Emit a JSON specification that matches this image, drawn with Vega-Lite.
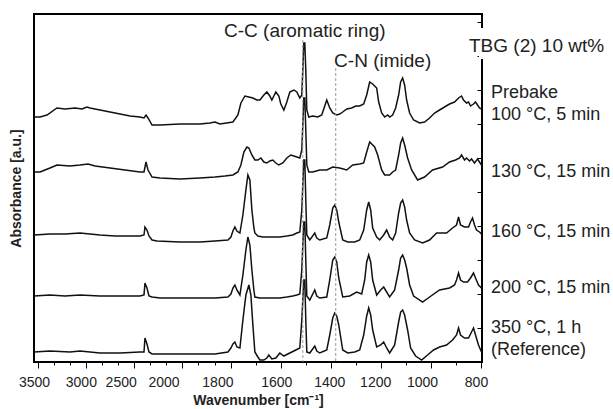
{
  "$schema": "https://vega.github.io/schema/vega-lite/v6.json",
  "width": 448,
  "height": 348,
  "autosize": {"type": "none"},
  "padding": {"left": 34, "top": 14, "right": 131, "bottom": 47},
  "background": "white",
  "config": {
    "view": {"stroke": "#000", "strokeWidth": 2},
    "font": "Liberation Sans",
    "axis": {"labelFont": "Liberation Sans", "titleFont": "Liberation Sans", "tickColor": "#000", "labelColor": "#222", "titleColor": "#222", "grid": false}
  },
  "datasets": {
    "spec": [
      {"s":"a","x":3542,"y":2.45},{"s":"a","x":3479,"y":2.45},{"s":"a","x":3406,"y":2.47},{"s":"a","x":3302,"y":2.54},{"s":"a","x":3218,"y":2.53},{"s":"a","x":3113,"y":2.54},{"s":"a","x":3040,"y":2.53},{"s":"a","x":2988,"y":2.55},{"s":"a","x":2957,"y":2.54},{"s":"a","x":2852,"y":2.52},{"s":"a","x":2695,"y":2.49},{"s":"a","x":2538,"y":2.46},{"s":"a","x":2434,"y":2.45},{"s":"a","x":2392,"y":2.44},{"s":"a","x":2371,"y":2.47},{"s":"a","x":2350,"y":2.44},{"s":"a","x":2308,"y":2.37},{"s":"a","x":2225,"y":2.37},{"s":"a","x":2016,"y":2.38},{"s":"a","x":1926,"y":2.38},{"s":"a","x":1886,"y":2.39},{"s":"a","x":1866,"y":2.40},{"s":"a","x":1846,"y":2.38},{"s":"a","x":1794,"y":2.40},{"s":"a","x":1774,"y":2.47},{"s":"a","x":1762,"y":2.59},{"s":"a","x":1746,"y":2.66},{"s":"a","x":1730,"y":2.65},{"s":"a","x":1714,"y":2.64},{"s":"a","x":1698,"y":2.62},{"s":"a","x":1686,"y":2.62},{"s":"a","x":1670,"y":2.67},{"s":"a","x":1658,"y":2.70},{"s":"a","x":1646,"y":2.66},{"s":"a","x":1638,"y":2.62},{"s":"a","x":1622,"y":2.70},{"s":"a","x":1610,"y":2.66},{"s":"a","x":1602,"y":2.58},{"s":"a","x":1590,"y":2.52},{"s":"a","x":1578,"y":2.60},{"s":"a","x":1566,"y":2.70},{"s":"a","x":1550,"y":2.72},{"s":"a","x":1538,"y":2.70},{"s":"a","x":1526,"y":2.64},{"s":"a","x":1518,"y":2.67},{"s":"a","x":1514,"y":2.92},{"s":"a","x":1510,"y":3.19},{"s":"a","x":1506,"y":3.19},{"s":"a","x":1502,"y":2.92},{"s":"a","x":1498,"y":2.52},{"s":"a","x":1490,"y":2.45},{"s":"a","x":1474,"y":2.46},{"s":"a","x":1454,"y":2.45},{"s":"a","x":1438,"y":2.47},{"s":"a","x":1418,"y":2.62},{"s":"a","x":1406,"y":2.54},{"s":"a","x":1394,"y":2.49},{"s":"a","x":1378,"y":2.47},{"s":"a","x":1366,"y":2.48},{"s":"a","x":1354,"y":2.50},{"s":"a","x":1338,"y":2.53},{"s":"a","x":1318,"y":2.54},{"s":"a","x":1302,"y":2.56},{"s":"a","x":1286,"y":2.56},{"s":"a","x":1270,"y":2.58},{"s":"a","x":1258,"y":2.67},{"s":"a","x":1246,"y":2.80},{"s":"a","x":1234,"y":2.78},{"s":"a","x":1226,"y":2.76},{"s":"a","x":1218,"y":2.74},{"s":"a","x":1210,"y":2.60},{"s":"a","x":1198,"y":2.49},{"s":"a","x":1186,"y":2.45},{"s":"a","x":1174,"y":2.47},{"s":"a","x":1166,"y":2.45},{"s":"a","x":1154,"y":2.47},{"s":"a","x":1142,"y":2.54},{"s":"a","x":1130,"y":2.67},{"s":"a","x":1122,"y":2.80},{"s":"a","x":1114,"y":2.84},{"s":"a","x":1106,"y":2.77},{"s":"a","x":1098,"y":2.62},{"s":"a","x":1086,"y":2.49},{"s":"a","x":1070,"y":2.42},{"s":"a","x":1046,"y":2.39},{"s":"a","x":1026,"y":2.40},{"s":"a","x":1006,"y":2.44},{"s":"a","x":986,"y":2.49},{"s":"a","x":966,"y":2.52},{"s":"a","x":946,"y":2.55},{"s":"a","x":926,"y":2.58},{"s":"a","x":906,"y":2.60},{"s":"a","x":890,"y":2.64},{"s":"a","x":878,"y":2.66},{"s":"a","x":870,"y":2.62},{"s":"a","x":858,"y":2.59},{"s":"a","x":850,"y":2.60},{"s":"a","x":842,"y":2.56},{"s":"a","x":830,"y":2.58},{"s":"a","x":822,"y":2.60},{"s":"a","x":814,"y":2.57},{"s":"a","x":806,"y":2.54},{"s":"a","x":798,"y":2.53},
      {"s":"b","x":3542,"y":1.90},{"s":"b","x":3479,"y":1.90},{"s":"b","x":3375,"y":1.94},{"s":"b","x":3302,"y":1.97},{"s":"b","x":3166,"y":1.96},{"s":"b","x":3061,"y":1.97},{"s":"b","x":2977,"y":1.98},{"s":"b","x":2904,"y":1.96},{"s":"b","x":2747,"y":1.94},{"s":"b","x":2591,"y":1.92},{"s":"b","x":2434,"y":1.90},{"s":"b","x":2392,"y":1.90},{"s":"b","x":2371,"y":2.00},{"s":"b","x":2350,"y":1.92},{"s":"b","x":2308,"y":1.85},{"s":"b","x":2225,"y":1.84},{"s":"b","x":2016,"y":1.83},{"s":"b","x":1926,"y":1.84},{"s":"b","x":1866,"y":1.85},{"s":"b","x":1826,"y":1.86},{"s":"b","x":1794,"y":1.87},{"s":"b","x":1774,"y":1.90},{"s":"b","x":1762,"y":1.97},{"s":"b","x":1750,"y":2.10},{"s":"b","x":1738,"y":2.15},{"s":"b","x":1730,"y":2.14},{"s":"b","x":1718,"y":2.07},{"s":"b","x":1706,"y":2.02},{"s":"b","x":1694,"y":2.02},{"s":"b","x":1682,"y":2.04},{"s":"b","x":1670,"y":2.00},{"s":"b","x":1658,"y":1.99},{"s":"b","x":1646,"y":2.01},{"s":"b","x":1634,"y":2.02},{"s":"b","x":1622,"y":1.99},{"s":"b","x":1610,"y":1.97},{"s":"b","x":1594,"y":1.99},{"s":"b","x":1578,"y":2.04},{"s":"b","x":1562,"y":2.07},{"s":"b","x":1550,"y":2.06},{"s":"b","x":1538,"y":2.05},{"s":"b","x":1526,"y":2.04},{"s":"b","x":1518,"y":2.12},{"s":"b","x":1514,"y":2.37},{"s":"b","x":1510,"y":2.64},{"s":"b","x":1506,"y":2.64},{"s":"b","x":1502,"y":2.32},{"s":"b","x":1498,"y":1.97},{"s":"b","x":1490,"y":1.90},{"s":"b","x":1474,"y":1.90},{"s":"b","x":1446,"y":1.92},{"s":"b","x":1418,"y":1.92},{"s":"b","x":1394,"y":1.95},{"s":"b","x":1366,"y":1.94},{"s":"b","x":1338,"y":1.92},{"s":"b","x":1314,"y":1.97},{"s":"b","x":1286,"y":1.98},{"s":"b","x":1270,"y":1.99},{"s":"b","x":1258,"y":2.10},{"s":"b","x":1246,"y":2.20},{"s":"b","x":1234,"y":2.17},{"s":"b","x":1226,"y":2.15},{"s":"b","x":1214,"y":2.07},{"s":"b","x":1198,"y":1.92},{"s":"b","x":1186,"y":1.87},{"s":"b","x":1166,"y":1.87},{"s":"b","x":1154,"y":1.90},{"s":"b","x":1142,"y":1.92},{"s":"b","x":1130,"y":2.07},{"s":"b","x":1122,"y":2.19},{"s":"b","x":1114,"y":2.24},{"s":"b","x":1106,"y":2.17},{"s":"b","x":1094,"y":2.04},{"s":"b","x":1078,"y":1.92},{"s":"b","x":1054,"y":1.82},{"s":"b","x":1026,"y":1.85},{"s":"b","x":994,"y":1.92},{"s":"b","x":954,"y":1.95},{"s":"b","x":926,"y":2.00},{"s":"b","x":902,"y":2.02},{"s":"b","x":886,"y":2.04},{"s":"b","x":878,"y":2.07},{"s":"b","x":866,"y":2.02},{"s":"b","x":858,"y":2.04},{"s":"b","x":846,"y":2.01},{"s":"b","x":838,"y":2.03},{"s":"b","x":826,"y":1.99},{"s":"b","x":814,"y":2.03},{"s":"b","x":798,"y":1.97},
      {"s":"c","x":3542,"y":1.27},{"s":"c","x":3375,"y":1.28},{"s":"c","x":3218,"y":1.28},{"s":"c","x":3061,"y":1.29},{"s":"c","x":2957,"y":1.28},{"s":"c","x":2852,"y":1.27},{"s":"c","x":2695,"y":1.26},{"s":"c","x":2538,"y":1.26},{"s":"c","x":2434,"y":1.26},{"s":"c","x":2392,"y":1.27},{"s":"c","x":2382,"y":1.35},{"s":"c","x":2361,"y":1.32},{"s":"c","x":2340,"y":1.26},{"s":"c","x":2308,"y":1.22},{"s":"c","x":2256,"y":1.21},{"s":"c","x":2016,"y":1.20},{"s":"c","x":1926,"y":1.20},{"s":"c","x":1866,"y":1.21},{"s":"c","x":1814,"y":1.22},{"s":"c","x":1802,"y":1.25},{"s":"c","x":1794,"y":1.31},{"s":"c","x":1786,"y":1.35},{"s":"c","x":1778,"y":1.31},{"s":"c","x":1766,"y":1.29},{"s":"c","x":1754,"y":1.47},{"s":"c","x":1742,"y":1.72},{"s":"c","x":1734,"y":1.87},{"s":"c","x":1726,"y":1.82},{"s":"c","x":1718,"y":1.52},{"s":"c","x":1710,"y":1.34},{"s":"c","x":1706,"y":1.29},{"s":"c","x":1694,"y":1.26},{"s":"c","x":1674,"y":1.25},{"s":"c","x":1646,"y":1.25},{"s":"c","x":1606,"y":1.25},{"s":"c","x":1578,"y":1.26},{"s":"c","x":1554,"y":1.27},{"s":"c","x":1538,"y":1.29},{"s":"c","x":1526,"y":1.30},{"s":"c","x":1518,"y":1.52},{"s":"c","x":1514,"y":1.77},{"s":"c","x":1510,"y":2.02},{"s":"c","x":1506,"y":2.02},{"s":"c","x":1502,"y":1.62},{"s":"c","x":1498,"y":1.27},{"s":"c","x":1486,"y":1.22},{"s":"c","x":1466,"y":1.29},{"s":"c","x":1458,"y":1.24},{"s":"c","x":1446,"y":1.22},{"s":"c","x":1418,"y":1.24},{"s":"c","x":1406,"y":1.37},{"s":"c","x":1394,"y":1.54},{"s":"c","x":1386,"y":1.57},{"s":"c","x":1378,"y":1.52},{"s":"c","x":1370,"y":1.40},{"s":"c","x":1354,"y":1.22},{"s":"c","x":1334,"y":1.20},{"s":"c","x":1306,"y":1.20},{"s":"c","x":1286,"y":1.22},{"s":"c","x":1270,"y":1.32},{"s":"c","x":1258,"y":1.52},{"s":"c","x":1250,"y":1.60},{"s":"c","x":1242,"y":1.52},{"s":"c","x":1234,"y":1.34},{"s":"c","x":1218,"y":1.25},{"s":"c","x":1206,"y":1.22},{"s":"c","x":1190,"y":1.27},{"s":"c","x":1178,"y":1.32},{"s":"c","x":1166,"y":1.25},{"s":"c","x":1154,"y":1.22},{"s":"c","x":1142,"y":1.29},{"s":"c","x":1130,"y":1.49},{"s":"c","x":1122,"y":1.59},{"s":"c","x":1114,"y":1.62},{"s":"c","x":1106,"y":1.55},{"s":"c","x":1098,"y":1.42},{"s":"c","x":1086,"y":1.29},{"s":"c","x":1066,"y":1.22},{"s":"c","x":1034,"y":1.19},{"s":"c","x":1006,"y":1.22},{"s":"c","x":978,"y":1.29},{"s":"c","x":938,"y":1.29},{"s":"c","x":914,"y":1.34},{"s":"c","x":898,"y":1.37},{"s":"c","x":890,"y":1.45},{"s":"c","x":882,"y":1.37},{"s":"c","x":866,"y":1.35},{"s":"c","x":850,"y":1.35},{"s":"c","x":842,"y":1.40},{"s":"c","x":834,"y":1.44},{"s":"c","x":826,"y":1.37},{"s":"c","x":818,"y":1.32},{"s":"c","x":806,"y":1.30},{"s":"c","x":798,"y":1.28},
      {"s":"d","x":3542,"y":0.66},{"s":"d","x":3375,"y":0.67},{"s":"d","x":3218,"y":0.66},{"s":"d","x":3061,"y":0.67},{"s":"d","x":2852,"y":0.66},{"s":"d","x":2643,"y":0.66},{"s":"d","x":2434,"y":0.66},{"s":"d","x":2392,"y":0.67},{"s":"d","x":2382,"y":0.79},{"s":"d","x":2361,"y":0.74},{"s":"d","x":2340,"y":0.66},{"s":"d","x":2308,"y":0.65},{"s":"d","x":2225,"y":0.64},{"s":"d","x":2016,"y":0.64},{"s":"d","x":1926,"y":0.64},{"s":"d","x":1866,"y":0.64},{"s":"d","x":1814,"y":0.65},{"s":"d","x":1802,"y":0.68},{"s":"d","x":1794,"y":0.74},{"s":"d","x":1786,"y":0.77},{"s":"d","x":1778,"y":0.72},{"s":"d","x":1766,"y":0.67},{"s":"d","x":1754,"y":0.87},{"s":"d","x":1742,"y":1.12},{"s":"d","x":1734,"y":1.25},{"s":"d","x":1726,"y":1.17},{"s":"d","x":1718,"y":0.92},{"s":"d","x":1710,"y":0.72},{"s":"d","x":1706,"y":0.65},{"s":"d","x":1686,"y":0.64},{"s":"d","x":1646,"y":0.64},{"s":"d","x":1606,"y":0.64},{"s":"d","x":1578,"y":0.65},{"s":"d","x":1554,"y":0.66},{"s":"d","x":1538,"y":0.67},{"s":"d","x":1526,"y":0.68},{"s":"d","x":1518,"y":0.92},{"s":"d","x":1514,"y":1.17},{"s":"d","x":1510,"y":1.40},{"s":"d","x":1506,"y":1.40},{"s":"d","x":1502,"y":1.02},{"s":"d","x":1498,"y":0.66},{"s":"d","x":1486,"y":0.62},{"s":"d","x":1466,"y":0.72},{"s":"d","x":1458,"y":0.66},{"s":"d","x":1446,"y":0.64},{"s":"d","x":1418,"y":0.65},{"s":"d","x":1406,"y":0.82},{"s":"d","x":1394,"y":1.02},{"s":"d","x":1386,"y":1.05},{"s":"d","x":1378,"y":1.00},{"s":"d","x":1370,"y":0.84},{"s":"d","x":1354,"y":0.65},{"s":"d","x":1326,"y":0.66},{"s":"d","x":1298,"y":0.70},{"s":"d","x":1278,"y":0.68},{"s":"d","x":1266,"y":0.82},{"s":"d","x":1258,"y":1.00},{"s":"d","x":1250,"y":1.07},{"s":"d","x":1242,"y":1.00},{"s":"d","x":1234,"y":0.82},{"s":"d","x":1218,"y":0.67},{"s":"d","x":1202,"y":0.72},{"s":"d","x":1190,"y":0.75},{"s":"d","x":1178,"y":0.70},{"s":"d","x":1166,"y":0.65},{"s":"d","x":1146,"y":0.72},{"s":"d","x":1130,"y":0.92},{"s":"d","x":1122,"y":1.04},{"s":"d","x":1114,"y":1.07},{"s":"d","x":1106,"y":1.02},{"s":"d","x":1098,"y":0.94},{"s":"d","x":1086,"y":0.77},{"s":"d","x":1070,"y":0.66},{"s":"d","x":1034,"y":0.60},{"s":"d","x":1006,"y":0.65},{"s":"d","x":966,"y":0.72},{"s":"d","x":926,"y":0.74},{"s":"d","x":906,"y":0.77},{"s":"d","x":898,"y":0.82},{"s":"d","x":890,"y":0.89},{"s":"d","x":882,"y":0.82},{"s":"d","x":870,"y":0.80},{"s":"d","x":854,"y":0.80},{"s":"d","x":842,"y":0.84},{"s":"d","x":830,"y":0.89},{"s":"d","x":822,"y":0.84},{"s":"d","x":810,"y":0.77},{"s":"d","x":798,"y":0.74},
      {"s":"e","x":3542,"y":0.10},{"s":"e","x":3375,"y":0.11},{"s":"e","x":3166,"y":0.10},{"s":"e","x":3061,"y":0.11},{"s":"e","x":2852,"y":0.09},{"s":"e","x":2643,"y":0.09},{"s":"e","x":2434,"y":0.10},{"s":"e","x":2392,"y":0.10},{"s":"e","x":2382,"y":0.24},{"s":"e","x":2361,"y":0.18},{"s":"e","x":2340,"y":0.10},{"s":"e","x":2308,"y":0.08},{"s":"e","x":2225,"y":0.08},{"s":"e","x":2016,"y":0.08},{"s":"e","x":1926,"y":0.08},{"s":"e","x":1866,"y":0.08},{"s":"e","x":1814,"y":0.10},{"s":"e","x":1802,"y":0.14},{"s":"e","x":1794,"y":0.18},{"s":"e","x":1786,"y":0.20},{"s":"e","x":1778,"y":0.15},{"s":"e","x":1766,"y":0.14},{"s":"e","x":1754,"y":0.42},{"s":"e","x":1742,"y":0.67},{"s":"e","x":1730,"y":0.77},{"s":"e","x":1722,"y":0.67},{"s":"e","x":1714,"y":0.37},{"s":"e","x":1706,"y":0.10},{"s":"e","x":1694,"y":0.05},{"s":"e","x":1686,"y":0.02},{"s":"e","x":1670,"y":0.02},{"s":"e","x":1658,"y":0.04},{"s":"e","x":1650,"y":0.07},{"s":"e","x":1638,"y":0.03},{"s":"e","x":1622,"y":0.04},{"s":"e","x":1606,"y":0.09},{"s":"e","x":1590,"y":0.06},{"s":"e","x":1574,"y":0.08},{"s":"e","x":1558,"y":0.10},{"s":"e","x":1542,"y":0.12},{"s":"e","x":1526,"y":0.14},{"s":"e","x":1518,"y":0.42},{"s":"e","x":1514,"y":0.62},{"s":"e","x":1510,"y":0.82},{"s":"e","x":1506,"y":0.82},{"s":"e","x":1502,"y":0.42},{"s":"e","x":1498,"y":0.10},{"s":"e","x":1486,"y":0.09},{"s":"e","x":1466,"y":0.16},{"s":"e","x":1458,"y":0.11},{"s":"e","x":1446,"y":0.09},{"s":"e","x":1418,"y":0.12},{"s":"e","x":1406,"y":0.27},{"s":"e","x":1394,"y":0.44},{"s":"e","x":1386,"y":0.49},{"s":"e","x":1378,"y":0.46},{"s":"e","x":1370,"y":0.37},{"s":"e","x":1354,"y":0.12},{"s":"e","x":1334,"y":0.09},{"s":"e","x":1306,"y":0.10},{"s":"e","x":1286,"y":0.12},{"s":"e","x":1270,"y":0.27},{"s":"e","x":1258,"y":0.46},{"s":"e","x":1250,"y":0.54},{"s":"e","x":1242,"y":0.47},{"s":"e","x":1234,"y":0.32},{"s":"e","x":1218,"y":0.15},{"s":"e","x":1202,"y":0.17},{"s":"e","x":1190,"y":0.20},{"s":"e","x":1178,"y":0.14},{"s":"e","x":1166,"y":0.09},{"s":"e","x":1146,"y":0.17},{"s":"e","x":1130,"y":0.40},{"s":"e","x":1122,"y":0.50},{"s":"e","x":1114,"y":0.52},{"s":"e","x":1106,"y":0.47},{"s":"e","x":1094,"y":0.32},{"s":"e","x":1082,"y":0.14},{"s":"e","x":1062,"y":0.06},{"s":"e","x":1038,"y":0.02},{"s":"e","x":1014,"y":0.07},{"s":"e","x":990,"y":0.12},{"s":"e","x":966,"y":0.15},{"s":"e","x":938,"y":0.17},{"s":"e","x":914,"y":0.22},{"s":"e","x":898,"y":0.27},{"s":"e","x":890,"y":0.34},{"s":"e","x":882,"y":0.27},{"s":"e","x":866,"y":0.24},{"s":"e","x":850,"y":0.24},{"s":"e","x":838,"y":0.30},{"s":"e","x":830,"y":0.34},{"s":"e","x":822,"y":0.27},{"s":"e","x":810,"y":0.17},{"s":"e","x":798,"y":0.10}
    ],
    "bands": [{"x": 1514, "top": 3.22}, {"x": 1382, "top": 2.94}],
    "notes": [{"t": "C-C (aromatic ring)", "x": 1506, "y": 3.25}, {"t": "C-N (imide)", "x": 1194, "y": 2.95}],
    "labels": [
      {"t": "Prebake", "y": 2.64},
      {"t": "100 °C, 5 min", "y": 2.42},
      {"t": "130 °C, 15 min", "y": 1.85},
      {"t": "160 °C, 15 min", "y": 1.25},
      {"t": "200 °C, 15 min", "y": 0.69},
      {"t": "350 °C, 1 h", "y": 0.29},
      {"t": "(Reference)", "y": 0.07}
    ],
    "head": [{"t": "TBG (2) 10 wt%", "y": 3.10}]
  },
  "layer": [
    {
      "data": {"name": "spec"},
      "mark": {"type": "line", "color": "#111", "strokeWidth": 1.5},
      "encoding": {
        "x": {
          "field": "x", "type": "quantitative",
          "scale": {"domain": [3542, 2000, 796], "range": [0, 147.5, 448], "zero": false, "nice": false},
          "axis": {
            "orient": "bottom",
            "values": [3500, 3000, 2500, 2000, 1800, 1600, 1400, 1200, 1000, 800],
            "domain": false,
            "tickSize": 6,
            "labelOffset": {"condition": [
              {"test": "datum.value == 3500", "value": -4},
              {"test": "datum.value == 3000", "value": -5},
              {"test": "datum.value == 2500", "value": -13},
              {"test": "datum.value == 2000", "value": -18},
              {"test": "datum.value == 1800", "value": -14},
              {"test": "datum.value == 1600", "value": -5},
              {"test": "datum.value == 1400", "value": -2},
              {"test": "datum.value == 1200", "value": -6},
              {"test": "datum.value == 1000", "value": -9},
              {"test": "datum.value == 800", "value": -5}
            ], "value": 0},
            "format": "d",
            "labelFontSize": 14,
            "labelPadding": 7,
            "labelFlush": false,
            "labelOverlap": false,
            "title": "Wavenumber [cm⁻¹]",
            "titleFontSize": 14,
            "titleFontWeight": "bold",
            "titlePadding": 4
          }
        },
        "y": {
          "field": "y", "type": "quantitative",
          "scale": {"domain": [0, 3.48], "zero": false, "nice": false},
          "axis": {"orient": "left", "ticks": false, "labels": false, "domain": false, "title": "Absorbance [a.u.]", "titleFontSize": 14, "titleFontWeight": "bold", "titlePadding": 11}
        },
        "detail": {"field": "s"}
      }
    },
    {
      "data": {"name": "bands"},
      "mark": {"type": "rule", "color": "#999", "strokeDash": [3, 2], "strokeWidth": 1},
      "encoding": {
        "x": {"field": "x", "type": "quantitative", "axis": {"orient": "bottom", "values": [3333.33, 3166.67, 2833.33, 2666.67, 2333.33, 2166.67, 1933.33, 1866.67, 1700, 1500, 1300, 1100, 900], "tickSize": 3, "labels": false, "domain": false, "title": null}},
        "y": {"field": "top", "type": "quantitative", "axis": {"orient": "right", "values": [0.34, 0.68, 1.02, 1.36, 1.70, 2.04, 2.38, 2.72, 3.06, 3.40], "tickSize": -5, "labels": false, "domain": false, "title": null}},
        "y2": {"datum": 0}
      }
    },
    {
      "data": {"name": "notes"},
      "mark": {"type": "text", "fontSize": 19, "color": "#222", "align": "center", "baseline": "alphabetic", "font": "Liberation Sans"},
      "encoding": {
        "x": {"field": "x", "type": "quantitative", "axis": null},
        "y": {"field": "y", "type": "quantitative", "axis": null},
        "text": {"field": "t"}
      }
    },
    {
      "data": {"values": [{}]},
      "mark": {"type": "rect", "color": "white"},
      "encoding": {
        "x": {"datum": 808, "axis": null}, "x2": {"datum": 780},
        "y": {"datum": 3.03, "axis": null}, "y2": {"datum": 3.34}
      }
    },
    {
      "data": {"name": "head"},
      "mark": {"type": "text", "fontSize": 19, "color": "#222", "align": "left", "baseline": "alphabetic", "dx": -13, "font": "Liberation Sans"},
      "encoding": {
        "x": {"datum": 796, "axis": null},
        "y": {"field": "y", "type": "quantitative", "axis": null},
        "text": {"field": "t"}
      }
    },
    {
      "data": {"name": "labels"},
      "mark": {"type": "text", "fontSize": 18, "color": "#222", "align": "left", "baseline": "alphabetic", "dx": 9, "font": "Liberation Sans"},
      "encoding": {
        "x": {"datum": 796, "axis": null},
        "y": {"field": "y", "type": "quantitative", "axis": null},
        "text": {"field": "t"}
      }
    }
  ],
  "resolve": {"axis": {"x": "independent", "y": "independent"}}
}
